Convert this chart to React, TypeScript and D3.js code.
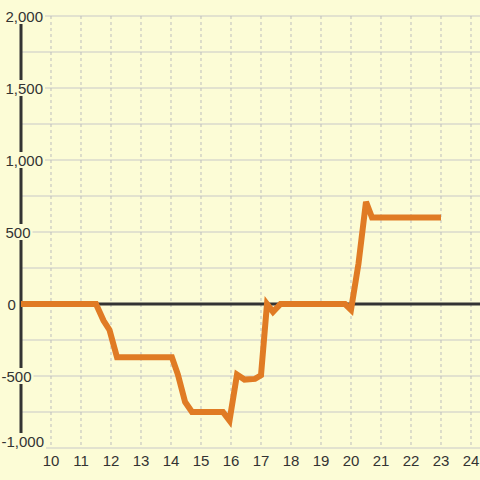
import React from "react";
import * as d3 from "d3";

const xValues = [9, 11.5, 11.75, 11.95, 12.2, 14.03, 14.23, 14.47, 14.7, 15.73, 15.95, 16.2, 16.45, 16.8, 17.0, 17.2, 17.4, 17.65, 19.8, 20.0, 20.25, 20.5, 20.7, 23.0];
const yValues = [0, 0, -115, -180, -370, -370, -490, -680, -750, -750, -810, -490, -525, -520, -495, 0, -55, 0, 0, -40, 280, 710, 600, 600];
const xTicks = [10, 11, 12, 13, 14, 15, 16, 17, 18, 19, 20, 21, 22, 23, 24];
const yTicks = [2000, 1500, 1000, 500, 0, -500, -1000];
const yGrid = [2000, 1750, 1500, 1250, 1000, 750, 500, 250, 0, -250, -500, -750, -1000];

const BG = "#fcfcd6";

function textWidth(t: string) {
  let w = 0;
  for (const c of t) {
    if (c === ",") w += 4.17;
    else if (c === "-") w += 5.0;
    else w += 8.34;
  }
  return w;
}

export default function App() {
  const W = 480, H = 480;
  const x = d3.scaleLinear().domain([10, 24]).range([51, 471]);
  const y = d3.scaleLinear().domain([-1000, 2000]).range([448, 16]);
  const pts = xValues.map((v, i) => [v, yValues[i]] as [number, number]);
  const line = d3.line<[number, number]>().x(d => x(d[0])).y(d => y(d[1]));
  const fmt = (v: number) => d3.format(",")(v).replace("\u2212", "-");
  const axisX = x(9);
  return (
    <div style={{ position: "fixed", left: 0, top: 0 }}>
      <svg width={W} height={H} style={{ display: "block", fontFamily: "'Liberation Sans', Arial, sans-serif" }}>
        <rect x={0} y={0} width={W} height={H} fill={BG} />
        {yGrid.map(v => (
          <line key={"g" + v} x1={axisX} x2={W} y1={y(v)} y2={y(v)} stroke="#c8c8c8" strokeWidth={1.2} />
        ))}
        {xTicks.map(v => (
          <line key={"v" + v} x1={x(v)} x2={x(v)} y1={y(2000)} y2={y(-1000)} stroke="#bdbdbd" strokeWidth={1} strokeDasharray="3,3" />
        ))}
        <line x1={axisX} x2={axisX} y1={y(2000)} y2={y(-1000)} stroke="#333" strokeWidth={3} />
        <line x1={axisX} x2={W} y1={y(0)} y2={y(0)} stroke="#333" strokeWidth={3} />
        {yTicks.map(v => {
          const t = fmt(v);
          const w = textWidth(t);
          const x0 = v < 0 ? 1.5 : v === 0 ? 7.5 : 5.5;
          const cy = Math.min(y(v) + 1, 442);
          return (
            <g key={"yl" + v}>
              <rect x={x0 - 2} y={cy - 9} width={w + 4} height={16} fill={BG} />
              <text x={x0} y={cy} dy="0.35em" textAnchor="start" fontSize={15} fill="#333">{t}</text>
            </g>
          );
        })}
        {xTicks.map(v => (
          <text key={"xl" + v} x={x(v)} y={461} dy="0.35em" textAnchor="middle" fontSize={15} fill="#333">{v}</text>
        ))}
        <path d={line(pts) || ""} fill="none" stroke="#e07b24" strokeWidth={6} strokeLinejoin="miter" strokeLinecap="butt" />
      </svg>
    </div>
  );
}
